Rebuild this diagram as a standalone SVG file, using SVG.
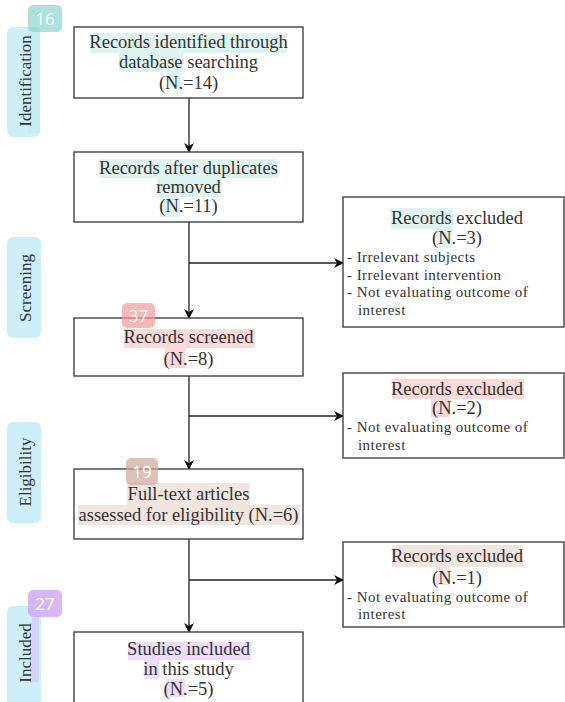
<svg xmlns="http://www.w3.org/2000/svg" width="565" height="702" viewBox="0 0 565 702">
<style>
.box{fill:#fff;stroke:#333;stroke-width:1.3}
.t{font-family:"Liberation Serif","Times New Roman",serif;fill:#333;font-size:18.5px;text-anchor:middle}
.s{font-family:"Liberation Serif","Times New Roman",serif;fill:#333;font-size:15px;letter-spacing:0.45px}
.side{fill:#cdeffa}
.sl{font-family:"Liberation Serif","Times New Roman",serif;fill:#333;font-size:17px;text-anchor:middle}
.badge{font-family:"Open Sans","DejaVu Sans",sans-serif;fill:#fff;font-size:17px;text-anchor:middle}
.conn{stroke:#222;stroke-width:1.3;fill:none}
.hT{fill:#bfe9e4;opacity:.5}
.hR{fill:#fbb5b5;opacity:.5}
.hB{fill:#e2cbbf;opacity:.5}
.hP{fill:#dcbaf7;opacity:.5}
</style>
<defs>
<marker id="ah" markerWidth="10" markerHeight="10" refX="9" refY="5" orient="auto" markerUnits="userSpaceOnUse">
<path d="M0,0 L10,5 L0,10 L3,5 Z" fill="#111"/>
</marker>
</defs>
<rect width="565" height="702" fill="#fff"/>

<g id="side-identification">
<rect class="side" x="7" y="27" width="33" height="110" rx="6"/>
<rect class="hT" x="28" y="27" width="12" height="106"/>
<text class="sl" transform="translate(31,81) rotate(-90)">Identification</text>
</g>
<g id="side-screening">
<rect class="side" x="7" y="237" width="34" height="101" rx="6"/>
<text class="sl" transform="translate(31,288) rotate(-90)">Screening</text>
</g>
<g id="side-eligibility">
<rect class="side" x="7" y="422" width="34" height="101" rx="6"/>
<text class="sl" transform="translate(31,472) rotate(-90)">Eligibility</text>
</g>
<g id="side-included">
<rect class="side" x="7" y="606" width="34" height="110" rx="6"/>
<rect class="hP" x="32" y="617" width="7" height="65"/>
<text class="sl" transform="translate(31,653) rotate(-90)">Included</text>
</g>

<g id="connectors">
<line class="conn" x1="189" y1="98" x2="189" y2="152" marker-end="url(#ah)"/>
<line class="conn" x1="189" y1="222" x2="189" y2="318" marker-end="url(#ah)"/>
<line class="conn" x1="189" y1="263" x2="343" y2="263" marker-end="url(#ah)"/>
<line class="conn" x1="189" y1="376" x2="189" y2="469" marker-end="url(#ah)"/>
<line class="conn" x1="189" y1="416" x2="343" y2="416" marker-end="url(#ah)"/>
<line class="conn" x1="189" y1="539" x2="189" y2="632" marker-end="url(#ah)"/>
<line class="conn" x1="189" y1="580" x2="343" y2="580" marker-end="url(#ah)"/>
</g>

<g id="node-identified">
<rect class="box" x="74" y="27" width="229" height="71"/>
<rect class="hT" x="90" y="33" width="197" height="20"/>
<rect class="hT" x="119" y="53" width="64" height="19"/>
<rect class="hT" x="167" y="72" width="13" height="16"/>
<text class="t" x="188.5" y="48">Records identified through</text>
<text class="t" x="188.5" y="68">database searching</text>
<text class="t" x="188.5" y="89">(N.=14)</text>
</g>

<g id="node-duplicates">
<rect class="box" x="74" y="152" width="229" height="70"/>
<rect class="hT" x="99" y="159" width="179" height="19"/>
<rect class="hT" x="157" y="178" width="65" height="19"/>
<rect class="hT" x="160" y="197" width="20" height="20"/>
<text class="t" x="188.5" y="174">Records after duplicates</text>
<text class="t" x="188.5" y="193">removed</text>
<text class="t" x="188.5" y="212">(N.=11)</text>
</g>

<g id="node-excluded1">
<rect class="box" x="343" y="197" width="221" height="130"/>
<rect class="hT" x="391" y="208" width="62" height="21"/>
<rect class="hT" x="437" y="229" width="15" height="19"/>
<text class="t" x="457" y="224">Records excluded</text>
<text class="t" x="457" y="244">(N.=3)</text>
<text class="s" x="347" y="262">- Irrelevant subjects</text>
<text class="s" x="347" y="279.5">- Irrelevant intervention</text>
<text class="s" x="347" y="297">- Not evaluating outcome of</text>
<text class="s" x="358" y="314.5">interest</text>
</g>

<g id="node-screened">
<rect class="box" x="74" y="318" width="229" height="58"/>
<rect class="hR" x="124" y="329" width="131" height="19"/>
<rect class="hR" x="165" y="348" width="20" height="20"/>
<text class="t" x="188.5" y="343">Records screened</text>
<text class="t" x="188.5" y="365">(N.=8)</text>
</g>

<g id="node-excluded2">
<rect class="box" x="343" y="373" width="221" height="85"/>
<rect class="hR" x="392" y="379" width="132" height="20"/>
<rect class="hR" x="431" y="399" width="19" height="18"/>
<text class="t" x="457" y="395">Records excluded</text>
<text class="t" x="457" y="414">(N.=2)</text>
<text class="s" x="347" y="432">- Not evaluating outcome of</text>
<text class="s" x="358" y="450">interest</text>
</g>

<g id="node-fulltext">
<rect class="box" x="74" y="469" width="229" height="70"/>
<rect class="hB" x="127" y="483" width="123" height="22"/>
<rect class="hB" x="78" y="505" width="222" height="20"/>
<text class="t" x="188.5" y="500">Full-text articles</text>
<text class="t" x="188.5" y="521">assessed for eligibility (N.=6)</text>
</g>

<g id="node-excluded3">
<rect class="box" x="343" y="542" width="221" height="85"/>
<rect class="hB" x="392" y="545" width="131" height="22"/>
<rect class="hB" x="436" y="567" width="13" height="18"/>
<text class="t" x="457" y="562">Records excluded</text>
<text class="t" x="457" y="584">(N.=1)</text>
<text class="s" x="347" y="602">- Not evaluating outcome of</text>
<text class="s" x="358" y="619">interest</text>
</g>

<g id="node-included">
<rect class="box" x="74" y="632" width="229" height="80"/>
<rect class="hP" x="128" y="642" width="123" height="18"/>
<rect class="hP" x="144" y="660" width="15" height="19"/>
<rect class="hP" x="166" y="679" width="19" height="18"/>
<text class="t" x="188.5" y="655">Studies included</text>
<text class="t" x="188.5" y="675">in this study</text>
<text class="t" x="188.5" y="695">(N.=5)</text>
</g>

<g id="badges">
<rect x="28" y="5" width="34" height="27" rx="5" fill="#8fd6cf" opacity=".7"/>
<text class="badge" x="45" y="25">16</text>
<rect x="122" y="303" width="33" height="25" rx="5" fill="#f79a9a" opacity=".7"/>
<text class="badge" x="138.5" y="322">37</text>
<rect x="126" y="458" width="32" height="27" rx="5" fill="#cfa898" opacity=".7"/>
<text class="badge" x="142" y="478">19</text>
<rect x="28" y="590" width="34" height="27" rx="5" fill="#cfa5f5" opacity=".8"/>
<text class="badge" x="45" y="610">27</text>
</g>
</svg>
